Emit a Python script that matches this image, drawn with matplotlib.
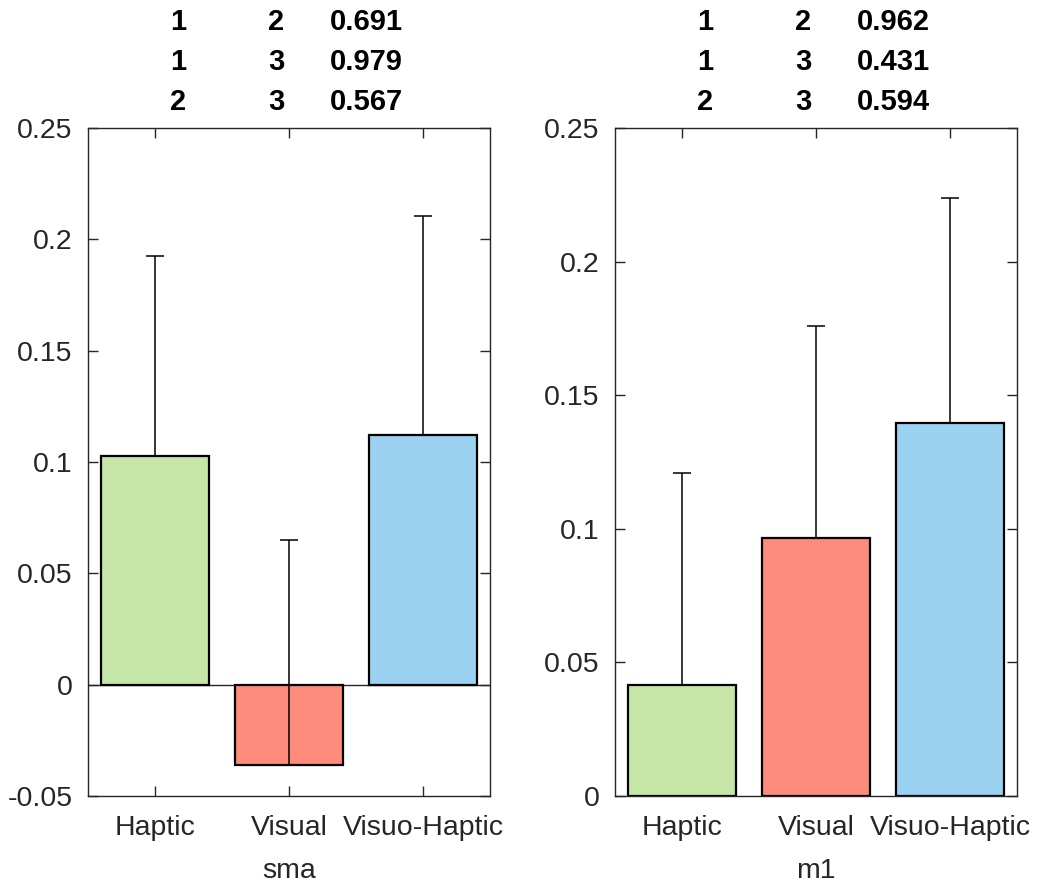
import matplotlib
matplotlib.use("Agg")
import matplotlib.pyplot as plt
import numpy as np

plt.rcParams['font.family'] = ['Liberation Sans', 'DejaVu Sans']

categories = ["Haptic", "Visual", "Visuo-Haptic"]
colors = ["#c5e6a6", "#fe8b7c", "#9bd2f1"]

sma_means = [0.1025, -0.0360, 0.1120]
sma_err = [0.0900, 0.1010, 0.0985]
m1_means = [0.0415, 0.0965, 0.1395]
m1_err = [0.0795, 0.0795, 0.0843]

sma_yticks = [-0.05, 0, 0.05, 0.1, 0.15, 0.2, 0.25]
sma_yticklabels = ["-0.05", "0", "0.05", "0.1", "0.15", "0.2", "0.25"]
m1_yticks = [0, 0.05, 0.1, 0.15, 0.2, 0.25]
m1_yticklabels = ["0", "0.05", "0.1", "0.15", "0.2", "0.25"]

sma_table = [("1", "2", "0.691"), ("1", "3", "0.979"), ("2", "3", "0.567")]
m1_table = [("1", "2", "0.962"), ("1", "3", "0.431"), ("2", "3", "0.594")]

W, H = 1037, 883
fig = plt.figure(figsize=(W / 100, H / 100), dpi=100)

axcol = "#262626"
FS = 20.5

def panel(left_px, means, errs, ylim, yticks, yticklabels, xlabel, table):
    ax = fig.add_axes([left_px / W, 1 - 796 / H, 402 / W, 668 / H])
    x = np.arange(1, len(categories) + 1)
    ax.bar(x, means, width=0.8, color=colors, edgecolor="black", linewidth=1.6, zorder=2)
    if ylim[0] < 0:
        ax.axhline(0, color=axcol, lw=1.0, zorder=1)
    ax.errorbar(x, means, yerr=[np.zeros(len(errs)), errs], fmt="none",
                ecolor="black", elinewidth=1.1, capsize=6.5, capthick=1.1, zorder=3)
    ax.set_xlim(0.5, 3.5)
    ax.set_ylim(*ylim)
    ax.set_xticks(x)
    ax.set_xticklabels(categories)
    ax.set_yticks(yticks)
    ax.set_yticklabels(yticklabels)
    ax.tick_params(direction="in", length=7, width=1.0, colors=axcol,
                   labelsize=FS, top=True, right=True, labelcolor=axcol)
    ax.tick_params(axis="y", pad=11)
    ax.tick_params(axis="x", pad=14)
    for s in ax.spines.values():
        s.set_color(axcol)
        s.set_linewidth(1.0)
    ax.set_xlabel(xlabel, fontsize=FS, color=axcol, labelpad=12)
    off = left_px - 88
    rows_y = [22, 62, 102]
    for (a, b, p), yy in zip(table, rows_y):
        fig.text((178 + off) / W, 1 - yy / H, a, ha="center", va="center",
                 fontsize=21, fontweight="bold", color="black")
        fig.text((276 + off) / W, 1 - yy / H, b, ha="center", va="center",
                 fontsize=21, fontweight="bold", color="black")
        fig.text((330 + off) / W, 1 - yy / H, p, ha="left", va="center",
                 fontsize=21, fontweight="bold", color="black")
    return ax

panel(88, sma_means, sma_err, (-0.05, 0.25), sma_yticks, sma_yticklabels, "sma", sma_table)
panel(615, m1_means, m1_err, (0, 0.25), m1_yticks, m1_yticklabels, "m1", m1_table)

fig.savefig("out.png", dpi=100, facecolor="white")
